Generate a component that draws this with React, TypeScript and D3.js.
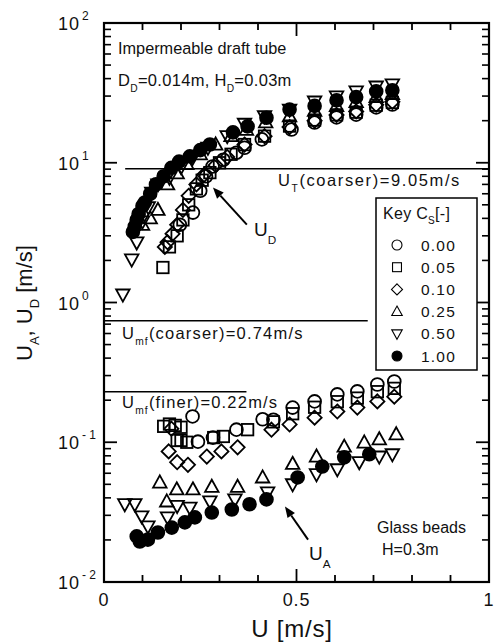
import React, { useEffect, useRef } from 'react';
import * as d3 from 'd3';

type Pt = [number, number];

// U_D (upper group) and U_A (lower group) readings, [U m/s, value m/s]
const ud000: Pt[] = [[0.197, 3.6], [0.231, 4.4], [0.25, 6.3], [0.265, 8.0], [0.282, 9.4], [0.31, 10.5], [0.344, 11.8], [0.365, 12.8], [0.41, 14.7], [0.487, 17.3], [0.547, 19.4], [0.604, 21.1], [0.655, 22.1], [0.707, 24.9], [0.749, 26.1]];
const ua000: Pt[] = [[0.23, 0.153], [0.244, 0.101], [0.283, 0.108], [0.344, 0.123], [0.412, 0.146], [0.44, 0.145], [0.49, 0.177], [0.547, 0.196], [0.606, 0.22], [0.658, 0.231], [0.71, 0.259], [0.754, 0.272]];

const ud005: Pt[] = [[0.153, 1.78], [0.17, 2.5], [0.19, 3.0], [0.205, 3.9], [0.22, 5.0], [0.24, 6.5], [0.255, 7.5], [0.275, 8.5], [0.3, 10.0], [0.33, 11.5], [0.365, 13.5], [0.417, 15.5], [0.482, 18.3], [0.547, 20.2], [0.604, 22.0], [0.655, 23.0], [0.707, 25.8], [0.749, 27.0]];
const ua005: Pt[] = [[0.155, 0.13], [0.17, 0.135], [0.185, 0.132], [0.2, 0.128], [0.19, 0.103], [0.2, 0.103], [0.215, 0.1], [0.285, 0.108], [0.31, 0.11], [0.373, 0.123], [0.44, 0.14], [0.49, 0.16], [0.547, 0.178], [0.606, 0.195], [0.658, 0.207], [0.71, 0.23], [0.754, 0.243]];

const ud010: Pt[] = [[0.158, 2.5], [0.165, 2.7], [0.178, 3.1], [0.19, 3.6], [0.205, 4.6], [0.22, 5.8], [0.24, 7.0], [0.26, 8.2], [0.29, 9.6], [0.32, 11], [0.365, 13.5], [0.417, 15.5], [0.482, 18], [0.547, 20], [0.604, 22], [0.655, 23.3], [0.707, 26], [0.749, 27.3]];
const ua010: Pt[] = [[0.175, 0.125], [0.168, 0.086], [0.19, 0.072], [0.218, 0.069], [0.267, 0.079], [0.305, 0.086], [0.347, 0.092], [0.435, 0.123], [0.482, 0.134], [0.547, 0.15], [0.606, 0.166], [0.658, 0.177], [0.71, 0.196], [0.754, 0.212]];

const ud025: Pt[] = [[0.1, 3.6], [0.12, 4.0], [0.14, 4.6], [0.165, 7.0], [0.19, 8.4], [0.215, 9.8], [0.25, 11.5], [0.29, 13.5], [0.33, 15.5], [0.37, 17.2], [0.42, 19.5], [0.482, 21.5], [0.547, 23.5], [0.604, 25.5], [0.655, 27.2], [0.707, 29.5], [0.749, 31]];
const ua025: Pt[] = [[0.145, 0.0515], [0.163, 0.0377], [0.189, 0.046], [0.231, 0.046], [0.28, 0.048], [0.347, 0.048], [0.412, 0.056], [0.49, 0.07], [0.552, 0.079], [0.624, 0.093], [0.676, 0.0996], [0.715, 0.105], [0.759, 0.114]];

const ud050: Pt[] = [[0.049, 1.14], [0.072, 2.03], [0.085, 2.69], [0.1, 3.8], [0.115, 4.8], [0.124, 6.1], [0.14, 7.0], [0.17, 7.8], [0.2, 9.3], [0.23, 10.8], [0.27, 12.8], [0.32, 15.5], [0.365, 19], [0.417, 21.5], [0.482, 24], [0.547, 27.4], [0.604, 29.8], [0.655, 32.4], [0.707, 35.1], [0.749, 36.3]];
const ua050: Pt[] = [[0.054, 0.036], [0.08, 0.036], [0.098, 0.0295], [0.114, 0.025], [0.165, 0.029], [0.19, 0.035], [0.223, 0.034], [0.275, 0.0377], [0.34, 0.039], [0.425, 0.0437], [0.49, 0.05], [0.552, 0.059], [0.606, 0.064], [0.663, 0.072], [0.715, 0.079], [0.749, 0.082]];

const ud100: Pt[] = [[0.075, 3.2], [0.08, 3.5], [0.085, 3.9], [0.09, 4.3], [0.1, 4.9], [0.106, 5.2], [0.12, 6.0], [0.135, 7.0], [0.155, 8.0], [0.175, 9.2], [0.195, 10.2], [0.223, 11.1], [0.25, 12.3], [0.275, 13.5], [0.335, 16.5], [0.373, 18.2], [0.422, 21], [0.482, 24], [0.547, 25.5], [0.604, 28], [0.655, 29.5], [0.707, 32.4], [0.749, 33]];
const ua100: Pt[] = [[0.085, 0.0212], [0.093, 0.0195], [0.114, 0.0201], [0.14, 0.0226], [0.176, 0.0245], [0.21, 0.0267], [0.236, 0.029], [0.28, 0.0314], [0.332, 0.033], [0.378, 0.036], [0.422, 0.039], [0.503, 0.056], [0.567, 0.067], [0.624, 0.078], [0.689, 0.082]];

const csLabels = ['0.00', '0.05', '0.10', '0.25', '0.50', '1.00'];
const csSymbols = ['circle', 'square', 'diamond', 'triangle', 'triangleDown', 'dot'];
const csData: Pt[][] = [
  [...ud000, ...ua000],
  [...ud005, ...ua005],
  [...ud010, ...ua010],
  [...ud025, ...ua025],
  [...ud050, ...ua050],
  [...ud100, ...ua100],
];

const xMajorTicks = [0, 0.5, 1];
const xTickLabels = ['0', '0.5', '1'];
const yDecades = [-2, -1, 0, 1, 2];

// reference velocities: value, U start, U end
const refValues = [9.05, 0.74, 0.23];
const refSpans: Pt[] = [[0.055, 1], [0, 0.685], [0, 0.37]];

// arrows [tail, tip] in data coords
const arrowUD: Pt[] = [[0.371, 3.61], [0.283, 6.65]];
const arrowUA: Pt[] = [[0.53, 0.0201], [0.47, 0.0347]];

const W = 495;
const H = 644;
const FONT = '"Liberation Sans", Arial, Helvetica, sans-serif';

const drawSymbol = (
  g: d3.Selection<SVGGElement, unknown, null, undefined>,
  kind: string,
  cx: number,
  cy: number,
  s: number,
  sw: number,
) => {
  const h = s / 2;
  let el;
  if (kind === 'circle' || kind === 'dot') {
    el = g.append('circle').attr('cx', cx).attr('cy', cy).attr('r', h * 0.95);
  } else if (kind === 'square') {
    const a = h * 0.85;
    el = g.append('rect').attr('x', cx - a).attr('y', cy - a).attr('width', 2 * a).attr('height', 2 * a);
  } else if (kind === 'diamond') {
    const a = h * 1.05;
    el = g.append('polygon').attr('points', `${cx},${cy - a} ${cx + a},${cy} ${cx},${cy + a} ${cx - a},${cy}`);
  } else if (kind === 'triangle') {
    el = g.append('polygon').attr('points', `${cx},${cy - h * 1.05} ${cx + h},${cy + h * 0.75} ${cx - h},${cy + h * 0.75}`);
  } else {
    el = g.append('polygon').attr('points', `${cx},${cy + h * 1.05} ${cx + h},${cy - h * 0.75} ${cx - h},${cy - h * 0.75}`);
  }
  el.attr('fill', kind === 'dot' ? '#000' : 'none').attr('stroke', '#000').attr('stroke-width', sw);
};

const App = () => {
  const ref = useRef<SVGSVGElement>(null);

  useEffect(() => {
    const svg = d3.select(ref.current);
    svg.selectAll('*').remove();

    const x = d3.scaleLinear().domain([0, 1]).range([104, 489]);
    const y = d3.scaleLog().domain([0.01, 100]).range([582, 23]);
    const [x0, x1] = x.range();
    const [y0, y1] = y.range();

    const root = svg.append('g').attr('font-family', FONT).attr('fill', '#111');

    // frame
    root.append('rect')
      .attr('x', x0).attr('y', y1).attr('width', x1 - x0).attr('height', y0 - y1)
      .attr('fill', 'none').attr('stroke', '#000').attr('stroke-width', 2.2);

    // x ticks
    const xMinor = d3.range(0, 1.001, 0.1);
    xMinor.forEach((t) => {
      const major = xMajorTicks.some((m) => Math.abs(m - t) < 1e-6);
      const len = major ? 13 : 7;
      root.append('line').attr('x1', x(t)).attr('x2', x(t)).attr('y1', y0).attr('y2', y0 - len)
        .attr('stroke', '#000').attr('stroke-width', 1.8);
      root.append('line').attr('x1', x(t)).attr('x2', x(t)).attr('y1', y1).attr('y2', y1 + len)
        .attr('stroke', '#000').attr('stroke-width', 1.8);
    });
    xMajorTicks.forEach((t, i) => {
      root.append('text').attr('x', x(t)).attr('y', 606).attr('text-anchor', 'middle')
        .attr('font-size', 18).attr('letter-spacing', 0.8).text(xTickLabels[i]);
    });

    // y ticks (log)
    yDecades.forEach((d) => {
      const v = Math.pow(10, d);
      root.append('line').attr('x1', x0).attr('x2', x0 + 13).attr('y1', y(v)).attr('y2', y(v))
        .attr('stroke', '#000').attr('stroke-width', 1.8);
      root.append('line').attr('x1', x1).attr('x2', x1 - 13).attr('y1', y(v)).attr('y2', y(v))
        .attr('stroke', '#000').attr('stroke-width', 1.8);
      if (d < 2) {
        d3.range(2, 10).forEach((m) => {
          const mv = m * v;
          root.append('line').attr('x1', x0).attr('x2', x0 + 7).attr('y1', y(mv)).attr('y2', y(mv))
            .attr('stroke', '#000').attr('stroke-width', 1.6);
          root.append('line').attr('x1', x1).attr('x2', x1 - 7).attr('y1', y(mv)).attr('y2', y(mv))
            .attr('stroke', '#000').attr('stroke-width', 1.6);
        });
      }
      root.append('text').attr('x', 80).attr('y', y(v) + 7).attr('text-anchor', 'end')
        .attr('font-size', 18).attr('letter-spacing', 1).text('10');
      root.append('text').attr('x', 82).attr('y', y(v) - 3).attr('font-size', 12)
        .text(d < 0 ? `- ${-d}` : `${d}`);
    });

    // reference lines
    refValues.forEach((v, i) => {
      root.append('line')
        .attr('x1', x(refSpans[i][0])).attr('x2', x(refSpans[i][1]))
        .attr('y1', y(v)).attr('y2', y(v))
        .attr('stroke', '#000').attr('stroke-width', 1.4);
    });

    // text with subscripts: parts are [string, isSubscript]
    const subText = (
      px: number,
      py: number,
      parts: [string, boolean][],
      size: number,
      spacing: number,
      drop = 6,
    ) => {
      const t = root.append('text').attr('x', px).attr('y', py).attr('font-size', size)
        .attr('letter-spacing', spacing);
      let lowered = false;
      parts.forEach(([s, sub]) => {
        let dy = 0;
        if (sub && !lowered) dy = drop;
        if (!sub && lowered) dy = -drop;
        lowered = sub;
        t.append('tspan')
          .attr('font-size', sub ? size * 0.62 : size)
          .attr('dy', dy)
          .text(s);
      });
      return t;
    };

    subText(278, 186, [['U', false], ['T', true], ['(coarser)=9.05m/s', false]], 16.5, 1.6);
    subText(122, 339, [['U', false], ['mf', true], ['(coarser)=0.74m/s', false]], 16.5, 1.2);
    subText(122, 408, [['U', false], ['mf', true], ['(finer)=0.22m/s', false]], 16.5, 1.2);

    root.append('text').attr('x', 118).attr('y', 54).attr('font-size', 16.3).text('Impermeable draft tube');
    subText(118, 86, [['D', false], ['D', true], ['=0.014m, H', false], ['D', true], ['=0.03m', false]], 16.5, 0.3);

    root.append('text').attr('x', 377).attr('y', 533).attr('font-size', 16).text('Glass beads');
    root.append('text').attr('x', 382).attr('y', 555).attr('font-size', 16).text('H=0.3m');

    // arrows
    const drawArrow = (a: Pt[]) => {
      const [tx, ty] = [x(a[0][0]), y(a[0][1])];
      const [hx, hy] = [x(a[1][0]), y(a[1][1])];
      const ang = Math.atan2(hy - ty, hx - tx);
      const L = 11;
      const wdt = 4.5;
      const bx = hx - L * Math.cos(ang);
      const by = hy - L * Math.sin(ang);
      root.append('line').attr('x1', tx).attr('y1', ty).attr('x2', bx).attr('y2', by)
        .attr('stroke', '#000').attr('stroke-width', 2);
      root.append('polygon')
        .attr('points', `${hx},${hy} ${bx + wdt * Math.sin(ang)},${by - wdt * Math.cos(ang)} ${bx - wdt * Math.sin(ang)},${by + wdt * Math.cos(ang)}`)
        .attr('fill', '#000');
    };
    drawArrow(arrowUD);
    drawArrow(arrowUA);
    subText(254, 236, [['U', false], ['D', true]], 19, 0, 8);
    subText(309, 560, [['U', false], ['A', true]], 19, 0, 8);

    // data
    const dots = root.append('g');
    csData.forEach((pts, i) => {
      pts.forEach(([u, v]) => drawSymbol(dots, csSymbols[i], x(u), y(v), 13.5, 1.8));
    });

    // legend
    const lg = root.append('g');
    lg.append('rect').attr('x', 376).attr('y', 198).attr('width', 101).attr('height', 172)
      .attr('fill', '#fff').attr('stroke', '#000').attr('stroke-width', 1.5);
    const kt = lg.append('text').attr('x', 383).attr('y', 219).attr('font-size', 16)
      .attr('letter-spacing', 0.3);
    kt.append('tspan').text('Key  C');
    kt.append('tspan').attr('font-size', 10).attr('dy', 5).text('S');
    kt.append('tspan').attr('dy', -5).text('[-]');
    csLabels.forEach((lab, i) => {
      const cy = 245 + i * 22.2;
      drawSymbol(lg, csSymbols[i], 397, cy, 10.5, 1.1);
      lg.append('text').attr('x', 421).attr('y', cy + 5.5).attr('font-size', 15.5)
        .attr('letter-spacing', 1.2).text(lab);
    });

    // axis titles
    root.append('text').attr('x', 292).attr('y', 637).attr('text-anchor', 'middle')
      .attr('font-size', 24).attr('letter-spacing', 0.8).text('U  [m/s]');

    const yt = root.append('text').attr('transform', 'translate(32,361) rotate(-90)')
      .attr('font-size', 22);
    yt.append('tspan').text('U');
    yt.append('tspan').attr('font-size', 13).attr('dy', 7).text('A');
    yt.append('tspan').attr('dy', -7).text(', U');
    yt.append('tspan').attr('font-size', 13).attr('dy', 7).text('D');
    yt.append('tspan').attr('dy', -7).text(' [m/s]');
  }, []);

  return (
    <svg
      ref={ref}
      width={W}
      height={H}
      style={{ position: 'absolute', left: 0, top: 0, background: '#fff' }}
    />
  );
};

export default App;
